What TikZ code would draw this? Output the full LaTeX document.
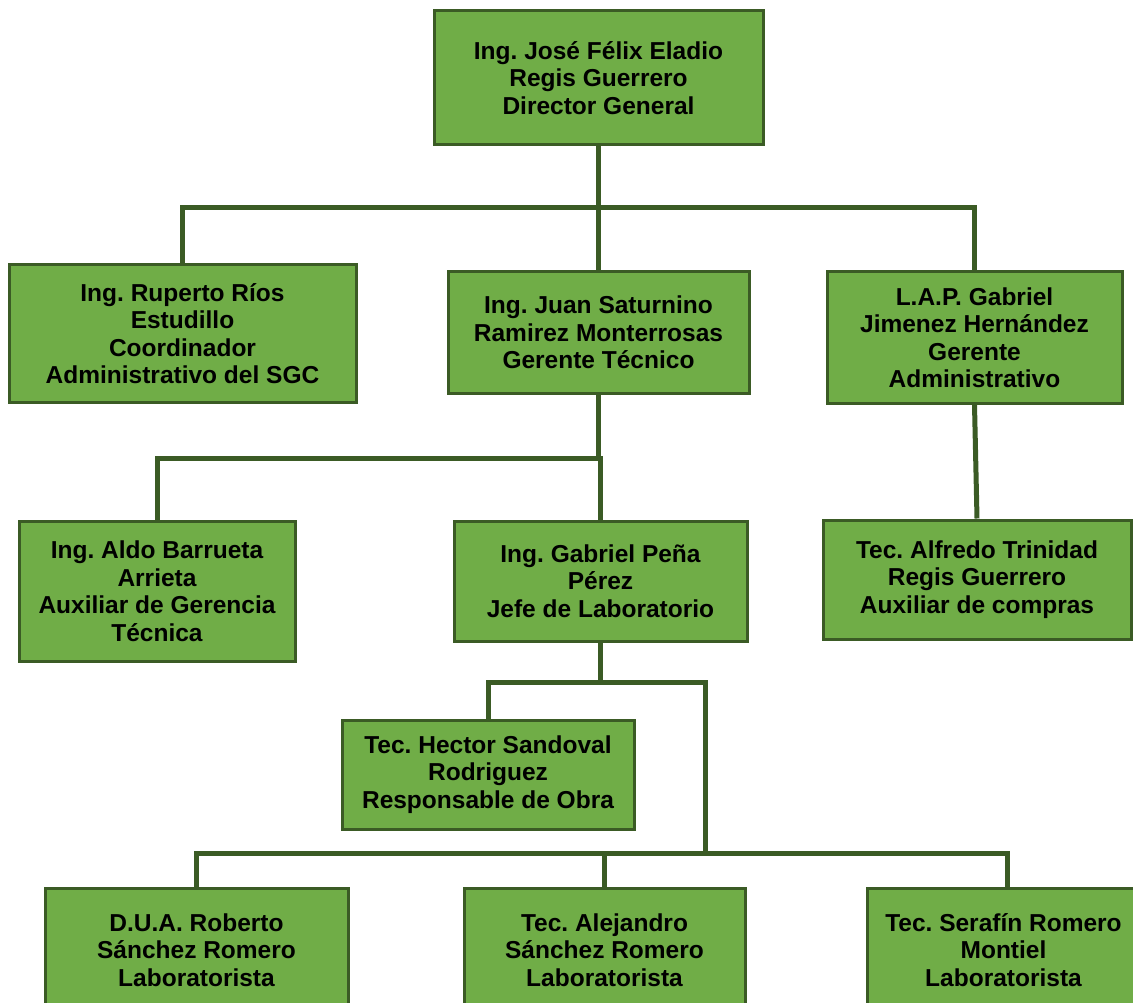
\documentclass[tikz,border=0pt]{standalone}
\usepackage{fontspec}
\setmainfont{Liberation Sans}
\frenchspacing
\definecolor{boxfill}{HTML}{70AD47}
\definecolor{boxline}{HTML}{3B5B25}
\begin{document}
\begin{tikzpicture}[x=1pt,y=-1pt,
  post/.style={draw=boxline, line width=3pt, fill=boxfill, inner sep=0pt,
    align=center, font=\fontsize{24.5}{27.5}\selectfont\bfseries, text=black},
  link/.style={draw=boxline, line width=5pt}]
\useasboundingbox (0,0) rectangle (1133,1003);

% staff boxes
\node[post, minimum width=329pt, minimum height=134pt] (dir) at (598.5,78)
  {Ing. José Félix Eladio\\Regis Guerrero\\Director General};
\node[post, minimum width=347pt, minimum height=137pt] (coord) at (182.5,333.5)
  {Ing. Ruperto Ríos\\Estudillo\\Coordinador\\Administrativo del SGC};
\node[post, minimum width=301pt, minimum height=121pt] (gtec) at (598.5,332.5)
  {Ing. Juan Saturnino\\Ramirez Monterrosas\\Gerente Técnico};
\node[post, minimum width=295pt, minimum height=131pt] (gadm) at (974.5,337.5)
  {L.A.P. Gabriel\\Jimenez Hernández\\Gerente\\Administrativo};
\node[post, minimum width=276pt, minimum height=140pt] (aux) at (157,591)
  {Ing. Aldo Barrueta\\Arrieta\\Auxiliar de Gerencia\\Técnica};
\node[post, minimum width=293pt, minimum height=120pt] (jefe) at (600.5,581)
  {Ing. Gabriel Peña\\Pérez\\Jefe de Laboratorio};
\node[post, minimum width=308pt, minimum height=119pt] (compras) at (977,579.5)
  {Tec. Alfredo Trinidad\\Regis Guerrero\\Auxiliar de compras};
\node[post, minimum width=292pt, minimum height=109pt] (obra) at (488,774.5)
  {Tec. Hector Sandoval\\Rodriguez\\Responsable de Obra};
\node[post, minimum width=303pt, minimum height=124pt] (lab1) at (196.5,950)
  {D.U.A. Roberto\\Sánchez Romero\\Laboratorista};
\node[post, minimum width=281pt, minimum height=124pt] (lab2) at (604.5,950)
  {Tec. Alejandro\\Sánchez Romero\\Laboratorista};
\node[post, minimum width=273pt, minimum height=124pt] (lab3) at (1003.5,950)
  {Tec. Serafín Romero\\Montiel\\Laboratorista};

% junction points of the connector buses
\coordinate (b1) at (598.5,208);
\coordinate (b2) at (598.5,458);
\coordinate (b3) at (600.5,682);
\coordinate (b4) at (705,853);
\coordinate (t3) at (1007,888);

\begin{scope}[on background layer/.try]
\draw[link] (dir.south) -- (b1);
\draw[link] (coord.north) |- (b1) -| (gadm.north);
\draw[link] (b1) -- (gtec.north);

\draw[link] (gtec.south) -- (b2);
\draw[link] (aux.north) |- (b2) -| (jefe.north);

\draw[link] (gadm.south) -- (compras.north);

\draw[link] (jefe.south) -- (b3);
\draw[link] (obra.north) |- (b3) -| (b4);

\draw[link] (lab1.north) |- (b4) -| (t3);
\draw[link] (b4 -| lab2.north) -- (lab2.north);
\end{scope}
\end{tikzpicture}
\end{document}
